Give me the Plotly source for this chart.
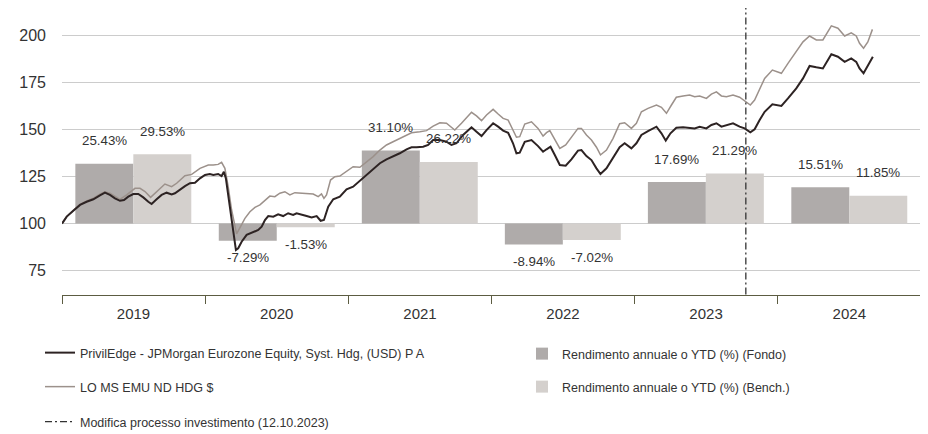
import numpy as np
import pandas as pd
import plotly.graph_objects as go

# ---------------- data ----------------
years = ["2019", "2020", "2021", "2022", "2023", "2024"]
fund_ret = [25.43, -7.29, 31.10, -8.94, 17.69, 15.51]
bench_ret = [29.53, -1.53, 26.22, -7.02, 21.29, 11.85]

fund_t = [2019.000, 2019.033, 2019.079, 2019.126, 2019.172, 2019.219, 2019.265, 2019.300, 2019.335, 2019.370,
          2019.405, 2019.433, 2019.463, 2019.498, 2019.533, 2019.568, 2019.603, 2019.626, 2019.661, 2019.696,
          2019.731, 2019.766, 2019.789, 2019.824, 2019.859, 2019.894, 2019.929, 2019.964, 2019.999,
          2020.033, 2020.057, 2020.091, 2020.115, 2020.131, 2020.145, 2020.161, 2020.178, 2020.196, 2020.215,
          2020.231, 2020.255, 2020.290, 2020.336, 2020.371, 2020.395, 2020.418, 2020.441, 2020.476, 2020.510,
          2020.545, 2020.580, 2020.615, 2020.639, 2020.674, 2020.709, 2020.744, 2020.779, 2020.807, 2020.830,
          2020.860, 2020.895, 2020.941, 2020.988,
          2021.034, 2021.081, 2021.128, 2021.174, 2021.221, 2021.267, 2021.313, 2021.360, 2021.407, 2021.442,
          2021.477, 2021.523, 2021.558, 2021.593, 2021.640, 2021.686, 2021.721, 2021.756, 2021.802, 2021.861,
          2021.896, 2021.931, 2021.966,
          2022.012, 2022.047, 2022.082, 2022.117, 2022.151, 2022.175, 2022.198, 2022.233, 2022.280, 2022.326,
          2022.361, 2022.385, 2022.413, 2022.443, 2022.478, 2022.519, 2022.559, 2022.605, 2022.629, 2022.664,
          2022.699, 2022.734, 2022.762, 2022.804, 2022.850, 2022.896, 2022.931, 2022.978,
          2023.013, 2023.048, 2023.094, 2023.153, 2023.188, 2023.218, 2023.251, 2023.292, 2023.339, 2023.385,
          2023.420, 2023.455, 2023.502, 2023.537, 2023.572, 2023.607, 2023.642, 2023.688, 2023.734, 2023.769,
          2023.809, 2023.839, 2023.874, 2023.909, 2023.963,
          2024.026, 2024.072, 2024.130, 2024.177, 2024.223, 2024.270, 2024.316, 2024.375, 2024.421, 2024.468,
          2024.514, 2024.549, 2024.572, 2024.600, 2024.630, 2024.665]
fund_v = [100.0, 103.7, 106.8, 109.9, 111.6, 112.9, 115.0, 116.4, 115.2, 113.4,
          112.1, 112.5, 114.3, 115.7, 115.7, 113.9, 111.6, 110.4, 112.9, 115.2,
          116.4, 115.5, 116.1, 118.2, 119.9, 121.4, 121.7, 124.0, 125.8,
          126.3, 125.8, 126.3, 125.2, 127.5, 124.0, 115.2, 105.5, 94.9, 86.0,
          86.9, 90.4, 94.0, 95.7, 96.6, 98.4, 101.9, 104.0, 103.7, 104.9,
          104.0, 105.5, 104.6, 105.5, 104.6, 104.0, 103.3, 104.0, 101.5, 101.9,
          109.0, 112.9, 114.3, 118.2,
          119.6, 122.8, 125.8, 128.8, 132.0, 134.1, 135.5, 137.3, 139.4, 140.5,
          140.5, 140.8, 141.7, 144.3, 144.3, 143.4, 141.7, 142.6, 147.0, 151.1,
          148.7, 146.4, 149.6,
          153.2, 151.4, 149.3, 148.2, 142.6, 137.3, 137.6, 143.4, 144.3, 141.1,
          138.1, 139.4, 140.8, 136.4, 131.1, 130.7, 134.1, 138.7, 139.0, 135.8,
          133.7, 129.3, 126.3, 129.3, 134.6, 140.5, 142.6, 139.9,
          142.6, 147.0, 149.1, 151.4, 147.9, 144.0, 147.9, 150.8, 151.1, 150.8,
          150.5, 151.4, 150.5, 152.3, 153.2, 151.4, 152.3, 153.2, 151.4, 150.5,
          148.4, 150.0, 154.9, 159.3, 163.3,
          162.4, 166.4, 171.7, 177.0, 183.6, 182.9, 182.3, 189.8, 188.5, 185.8,
          187.6, 185.8, 182.3, 179.7, 183.6, 188.5]

bench_t = [2019.000, 2019.033, 2019.079, 2019.126, 2019.172, 2019.219, 2019.265, 2019.300, 2019.335, 2019.405,
           2019.452, 2019.510, 2019.545, 2019.580, 2019.619, 2019.661, 2019.719, 2019.766, 2019.801, 2019.859,
           2019.906, 2019.964,
           2020.022, 2020.057, 2020.091, 2020.115, 2020.138, 2020.161, 2020.185, 2020.220, 2020.243, 2020.278,
           2020.313, 2020.348, 2020.383, 2020.418, 2020.452, 2020.487, 2020.522, 2020.557, 2020.592, 2020.627,
           2020.662, 2020.709, 2020.755, 2020.790, 2020.813, 2020.830, 2020.848, 2020.876, 2020.906, 2020.941,
           2020.988,
           2021.034, 2021.081, 2021.128, 2021.174, 2021.221, 2021.267, 2021.313, 2021.360, 2021.407, 2021.442,
           2021.500, 2021.547, 2021.593, 2021.640, 2021.686, 2021.744, 2021.791, 2021.861, 2021.896, 2021.931,
           2021.966,
           2022.012, 2022.047, 2022.082, 2022.117, 2022.151, 2022.175, 2022.198, 2022.233, 2022.280, 2022.326,
           2022.361, 2022.385, 2022.408, 2022.443, 2022.478, 2022.519, 2022.559, 2022.605, 2022.629, 2022.664,
           2022.699, 2022.734, 2022.762, 2022.804, 2022.850, 2022.896, 2022.931, 2022.978,
           2023.013, 2023.048, 2023.094, 2023.153, 2023.188, 2023.223, 2023.258, 2023.292, 2023.339, 2023.385,
           2023.420, 2023.455, 2023.502, 2023.537, 2023.572, 2023.607, 2023.642, 2023.688, 2023.734, 2023.769,
           2023.809, 2023.839, 2023.874, 2023.909, 2023.963,
           2024.026, 2024.072, 2024.130, 2024.177, 2024.223, 2024.270, 2024.316, 2024.375, 2024.421, 2024.468,
           2024.514, 2024.549, 2024.572, 2024.600, 2024.630, 2024.662]
bench_v = [100.0, 103.8, 107.0, 110.2, 112.0, 113.5, 115.6, 116.9, 116.1, 112.9,
           115.2, 118.7, 118.7, 117.0, 113.9, 116.9, 121.0, 119.6, 121.4, 125.4,
           126.1, 129.3,
           131.1, 131.1, 131.4, 132.5, 129.3, 119.6, 107.2, 94.5, 97.5, 102.8,
           106.3, 108.6, 109.9, 112.5, 114.6, 114.3, 116.1, 116.9, 115.2, 116.4,
           116.1, 115.7, 115.7, 114.3, 115.7, 113.4, 115.2, 123.1, 124.9, 125.2,
           127.5,
           130.2, 129.9, 132.8, 135.5, 139.0, 141.7, 143.4, 145.2, 147.0, 148.2,
           148.7, 149.3, 151.7, 153.5, 153.2, 149.6, 153.2, 159.0, 157.1, 154.6,
           157.6,
           160.6, 158.1, 155.8, 154.9, 149.6, 145.8, 146.1, 152.8, 154.0, 150.5,
           146.4, 148.2, 149.3, 144.3, 139.9, 141.7, 145.8, 150.5, 150.5, 147.0,
           144.3, 140.5, 136.4, 139.0, 145.2, 153.0, 153.5, 150.5,
           153.2, 159.3, 161.1, 162.9, 161.7, 158.5, 162.9, 167.0, 167.7, 168.2,
           167.3, 167.7, 166.4, 168.7, 169.9, 167.7, 167.3, 168.2, 167.0, 165.2,
           162.9, 165.5, 171.5, 177.0, 181.4,
           179.7, 185.0, 191.1, 196.4, 199.5, 197.4, 197.4, 204.9, 203.6, 199.5,
           201.2, 199.5, 195.6, 193.0, 196.3, 203.0]

change_date = "2023-10-12"
y_ticks = [75, 100, 125, 150, 175, 200]

fund_name = "PrivilEdge - JPMorgan Eurozone Equity, Syst. Hdg, (USD) P A"
bench_name = "LO MS EMU ND HDG $"
change_name = "Modifica processo investimento (12.10.2023)"
bar_fund_name = "Rendimento annuale o YTD (%) (Fondo)"
bar_bench_name = "Rendimento annuale o YTD (%) (Bench.)"

# ---------------- layout helpers ----------------
OFF = 8                       # default page body margin
W, H = 928 - OFF, 434 - OFF   # figure size inside the page
ML, MR, MT, MB = 62 - OFF, 7, 8 - OFF, 139
DAY_MS = 86400000.0
YEAR_MS = 365.25 * DAY_MS
START = pd.Timestamp("2019-01-01")


def to_dates(t):
    d = START + pd.to_timedelta((np.array(t) - 2019.0) * 365.25, unit="D")
    return [x.strftime("%Y-%m-%d %H:%M:%S") for x in d]


FONT = "Liberation Sans, Arial, sans-serif"
TXT = "#333333"
AXC = "#5c5c42"
C_FUND = "#2d2323"
C_BENCH = "#9c918b"
C_BFUND = "#afabaa"
C_BBENCH = "#d4d0cd"

bar_w = 0.405 * YEAR_MS
mids = [pd.Timestamp(f"{y}-07-02") for y in years]
mid_str = [m.strftime("%Y-%m-%d") for m in mids]

fig = go.Figure()

fig.add_trace(go.Bar(x=mid_str, y=fund_ret, width=[bar_w] * len(years), offset=-bar_w,
                     marker=dict(color=C_BFUND, line=dict(width=0)), name=bar_fund_name,
                     legend="legend4", yaxis="y", hoverinfo="skip"))
fig.add_trace(go.Bar(x=mid_str, y=bench_ret, width=[bar_w] * len(years), offset=0,
                     marker=dict(color=C_BBENCH, line=dict(width=0)), name=bar_bench_name,
                     legend="legend5", yaxis="y", hoverinfo="skip"))

fig.add_trace(go.Scatter(x=to_dates(bench_t), y=bench_v, mode="lines", name=bench_name,
                         line=dict(color=C_BENCH, width=1.5), yaxis="y2", legend="legend2"))
fig.add_trace(go.Scatter(x=to_dates(fund_t), y=fund_v, mode="lines", name=fund_name,
                         line=dict(color=C_FUND, width=2), yaxis="y2", legend="legend"))
fig.add_trace(go.Scatter(x=[change_date, change_date], y=[62.4, 214.3], mode="lines", name=change_name,
                         line=dict(color="#333333", width=1.3, dash="7px,3px,2px,3px"),
                         yaxis="y2", legend="legend3"))

# bar value labels
ann = []
for m, fv, bv in zip(mids, fund_ret, bench_ret):
    for val, shift in ((fv, -bar_w / 2), (bv, bar_w / 2)):
        xc = m + pd.Timedelta(milliseconds=shift)
        ann.append(dict(x=xc.strftime("%Y-%m-%d %H:%M:%S"), y=val, xref="x", yref="y",
                        text=f"{val:.2f}%", showarrow=False,
                        yshift=23 if val >= 0 else -17, yanchor="middle", xanchor="center",
                        font=dict(family=FONT, size=13.3, color=TXT)))

ph = H - MT - MB
zero_px = 223.6 - OFF         # pixel row (figure coords) of index 100 / return 0
k2 = 1.8856                   # px per index point
y2_top = 100 + (zero_px - MT) / k2
y2_bot = 100 - (MT + ph - zero_px) / k2
kb = 2.35                     # px per return percent
yb_top = (zero_px - MT) / kb
yb_bot = -(MT + ph - zero_px) / kb


def leg(xpx, ypx):
    return dict(x=(xpx - OFF) / W, y=1 - (ypx - OFF) / H, xref="container", yref="container",
                xanchor="left", yanchor="middle", bgcolor="rgba(0,0,0,0)",
                font=dict(family=FONT, size=12.5, color=TXT), itemwidth=30)


fig.update_layout(
    width=W, height=H,
    margin=dict(l=ML, r=MR, t=MT, b=MB, autoexpand=False),
    paper_bgcolor="white", plot_bgcolor="white",
    showlegend=True,
    barmode="overlay",
    annotations=ann,
    xaxis=dict(type="date", range=["2019-01-01", "2025-01-01"], tick0="2019-01-01", dtick="M12",
               tickformat="%Y", ticklabelmode="period", ticks="outside", ticklen=8, tickwidth=1,
               tickcolor=AXC, showline=True, linecolor=AXC, linewidth=1.2, showgrid=False,
               zeroline=False, ticklabelstandoff=-3,
               tickfont=dict(family=FONT, size=15, color=TXT), fixedrange=True),
    yaxis=dict(range=[yb_bot, yb_top], visible=False, showgrid=False, zeroline=False, fixedrange=True),
    yaxis2=dict(range=[y2_bot, y2_top], overlaying="y", side="left", tickvals=y_ticks,
                showgrid=True, gridcolor="#cccccc", gridwidth=1, zeroline=False, ticks="",
                showline=False, ticklabelstandoff=15,
                tickfont=dict(family=FONT, size=16, color=TXT), fixedrange=True),
    legend=leg(40, 353),
    legend2=leg(40, 387),
    legend3=leg(40, 422),
    legend4=leg(522, 354),
    legend5=leg(522, 387),
)

fig.write_html("out.html")
